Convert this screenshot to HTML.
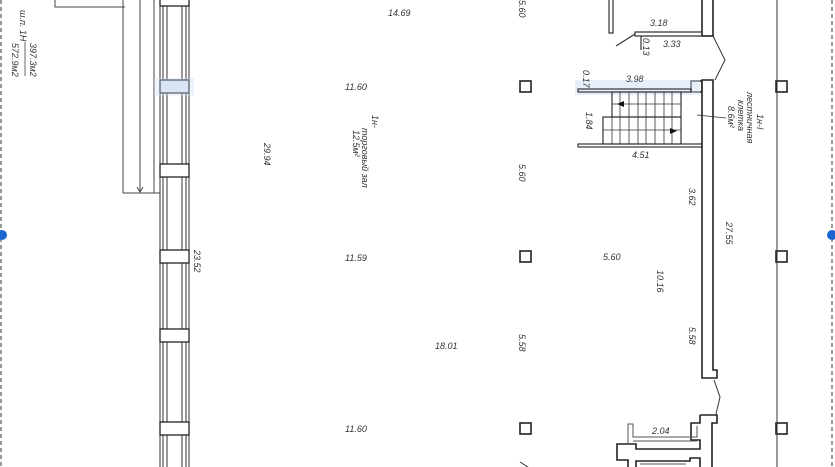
<!DOCTYPE html>
<html><head><meta charset="utf-8"><style>
html,body{margin:0;padding:0;background:#fff;}
svg{display:block}
text{font-family:"Liberation Sans","DejaVu Sans",sans-serif;font-style:italic;fill:#333;font-size:9px}
</style></head><body>
<svg width="835" height="467" viewBox="0 0 835 467" xmlns="http://www.w3.org/2000/svg">
<line x1="1" y1="0" x2="1" y2="467" stroke="#555" stroke-width="1.2" stroke-dasharray="4,3"/>
<line x1="832" y1="0" x2="832" y2="467" stroke="#555" stroke-width="1.2" stroke-dasharray="4,3"/>
<circle cx="2" cy="235" r="5" fill="#1a66d0"/>
<circle cx="832" cy="235" r="5" fill="#1a66d0"/>

<g stroke="#444" stroke-width="1" fill="none">
<polyline points="55,0 55,7 125,7"/>
<line x1="123" y1="0" x2="123" y2="193"/>
<line x1="140" y1="0" x2="140" y2="192"/>
<line x1="154" y1="0" x2="154" y2="193"/>
<line x1="123" y1="193" x2="160" y2="193"/>
<polyline points="137,187 140,192 143,187"/>
</g>
<text transform="translate(20,10) rotate(90)" font-size="9">ш.п. 1Н</text>
<text transform="translate(30,43) rotate(90)" font-size="9">397.3м2</text>
<line x1="25" y1="42" x2="25" y2="76" stroke="#444" stroke-width="0.8"/>
<text transform="translate(12,43) rotate(90)" font-size="9">572.9м2</text>

<g stroke="#333" stroke-width="1">
<line x1="160" y1="0" x2="160" y2="467"/>
<line x1="163" y1="0" x2="163" y2="467"/>
<line x1="167" y1="0" x2="167" y2="467"/>
<line x1="182" y1="0" x2="182" y2="467"/>
<line x1="186" y1="0" x2="186" y2="467"/>
<line x1="189" y1="0" x2="189" y2="467"/>
</g>
<g stroke="#222" stroke-width="1.3">
<rect x="160" y="-2" width="29" height="8" fill="#fff"/>
<rect x="160" y="80" width="29" height="13" fill="#dfe9f8"/>
<rect x="160" y="164" width="29" height="13" fill="#fff"/>
<rect x="160" y="250" width="29" height="13" fill="#fff"/>
<rect x="160" y="329" width="29" height="13" fill="#fff"/>
<rect x="160" y="422" width="29" height="13" fill="#fff"/>
</g>
<rect x="154" y="78" width="40" height="18" fill="#cfe0f6" opacity="0.35"/>

<text x="388" y="16">14.69</text>
<text x="345" y="90">11.60</text>
<text x="345" y="261">11.59</text>
<text x="345" y="432">11.60</text>
<text x="435" y="349">18.01</text>
<text transform="translate(264,143) rotate(90)">29.94</text>
<text transform="translate(194,250) rotate(90)">23.52</text>
<text transform="translate(519,0) rotate(90)">5.60</text>
<text transform="translate(519,164) rotate(90)">5.60</text>
<text transform="translate(519,334) rotate(90)">5.58</text>
<text transform="translate(372,115) rotate(90)" font-size="8">1н-</text>
<text transform="translate(362,128) rotate(90)" font-size="8">торговый зал</text>
<text transform="translate(353,130) rotate(90)" font-size="8">12.5м²</text>

<g stroke="#222" stroke-width="1.6" fill="#fff">
<rect x="520" y="81" width="11" height="11"/>
<rect x="520" y="251" width="11" height="11"/>
<rect x="520" y="423" width="11" height="11"/>
<rect x="776" y="81" width="11" height="11"/>
<rect x="776" y="251" width="11" height="11"/>
<rect x="776" y="423" width="11" height="11"/>
<rect x="691" y="81" width="11" height="11"/>
</g>
<line x1="777" y1="0" x2="777" y2="467" stroke="#333" stroke-width="1"/>
<line x1="520" y1="462" x2="528" y2="467" stroke="#333" stroke-width="1"/>

<g stroke="#222" stroke-width="1.6" fill="#fff">
<rect x="702" y="-2" width="11" height="38"/>
<path d="M702,80 L713,80 L713,370 L717,370 L717,378 L702,378 Z"/>
</g>
<g stroke="#333" stroke-width="1" fill="none">
<polyline points="713,36 725,60 715,80"/>
<polyline points="714,380 720,397 716,414"/>
</g>

<g stroke="#333" stroke-width="1.2" fill="none">
<polyline points="609,0 609,33 613,33 613,0"/>
<polyline points="702,32 635,32 635,36 702,36"/>
<line x1="635" y1="34" x2="616" y2="46"/>
<line x1="641" y1="36" x2="641" y2="50"/>
</g>
<text x="650" y="26">3.18</text>
<text x="663" y="47">3.33</text>
<text transform="translate(643,38) rotate(90)" font-size="8">0.13</text>

<rect x="575" y="80" width="125" height="15" fill="#cfe0f6" opacity="0.5"/>
<g stroke="#222" stroke-width="1.1" fill="none">
<rect x="578" y="89" width="113" height="3"/>
<rect x="578" y="144" width="124" height="3"/>
<rect x="612" y="92" width="69" height="25"/>
<rect x="603" y="117" width="78" height="27"/>
</g>
<g stroke="#333" stroke-width="0.8">
<line x1="612" y1="104" x2="681" y2="104"/>
<line x1="603" y1="130" x2="681" y2="130"/>
<line x1="620" y1="92" x2="620" y2="144"/>
<line x1="629" y1="92" x2="629" y2="144"/>
<line x1="638" y1="92" x2="638" y2="144"/>
<line x1="646" y1="92" x2="646" y2="144"/>
<line x1="655" y1="92" x2="655" y2="144"/>
<line x1="664" y1="92" x2="664" y2="144"/>
<line x1="672" y1="92" x2="672" y2="144"/>
<line x1="612" y1="117" x2="612" y2="144"/>
<line x1="697" y1="115" x2="726" y2="118"/>
</g>
<path d="M617,104 L624,101 L624,107 Z" fill="#111"/>
<path d="M677,131 L670,128 L670,134 Z" fill="#111"/>
<text x="626" y="82">3.98</text>
<text transform="translate(583,70) rotate(90)" font-size="8">0.17</text>
<text transform="translate(586,112) rotate(90)">1.84</text>
<text x="632" y="158">4.51</text>
<text transform="translate(728,106) rotate(90)" font-size="8">8.6м²</text>
<text transform="translate(738,100) rotate(90)" font-size="8">клетка</text>
<text transform="translate(747,92) rotate(90)" font-size="8">лестничная</text>
<text transform="translate(757,114) rotate(90)" font-size="8">1н-I</text>

<text transform="translate(689,188) rotate(90)">3.62</text>
<text transform="translate(726,222) rotate(90)">27.55</text>
<text x="603" y="260">5.60</text>
<text transform="translate(657,270) rotate(90)">10.16</text>
<text transform="translate(689,327) rotate(90)">5.58</text>

<g stroke="#222" stroke-width="1.6" fill="none">
<polyline points="700,415 717,415 717,423 712,423 712,467"/>
<polyline points="700,415 700,423 691,423 691,440 700,440 700,449 636,449 636,444 617,444 617,460 628,460 628,467"/>
<polyline points="636,467 636,461 690,461 690,458 700,458 700,467"/>
</g>
<g stroke="#555" stroke-width="1" fill="none">
<polyline points="628,444 628,424 633,424 633,437 697,437 697,426"/>
<line x1="633" y1="441" x2="697" y2="441"/>
<line x1="640" y1="464" x2="686" y2="464"/>
</g>
<text x="652" y="434">2.04</text>
</svg>
</body></html>
